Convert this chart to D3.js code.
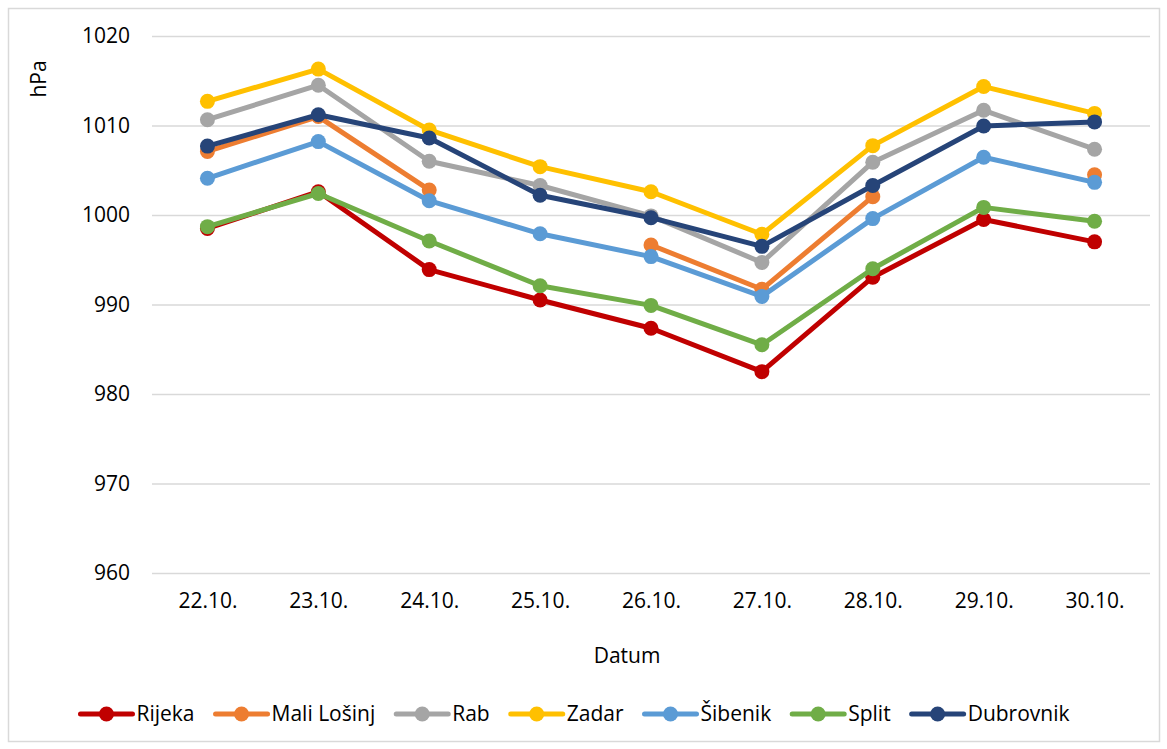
<!DOCTYPE html>
<html>
<head>
<meta charset="utf-8">
<script src="https://cdn.jsdelivr.net/npm/d3@7"></script>
<style>
  body { margin: 0; background: #fff; }
  svg { font-family: "Open Sans", "Noto Sans", sans-serif; }
</style>
</head>
<body>
<svg width="1167" height="749"></svg>
<script>
// data (hPa)
var dates = ["22.10.", "23.10.", "24.10.", "25.10.", "26.10.", "27.10.", "28.10.", "29.10.", "30.10."];
var yTicks = [960, 970, 980, 990, 1000, 1010, 1020];
var rijeka     = [998.5, 1002.6, 993.9, 990.5, 987.35, 982.5, 993.05, 999.5, 997.0];
var maliLosinj = [1007.1, 1011.0, 1002.8, null, 996.65, 991.7, 1002.05, null, 1004.5];
var rab        = [1010.65, 1014.5, 1006.0, 1003.3, 999.9, 994.7, 1005.9, 1011.7, 1007.35];
var zadar      = [1012.7, 1016.3, 1009.5, 1005.4, 1002.6, 997.85, 1007.75, 1014.35, 1011.35];
var sibenik    = [1004.1, 1008.2, 1001.6, 997.9, 995.35, 990.9, 999.6, 1006.45, 1003.65];
var split      = [998.7, 1002.4, 997.1, 992.1, 989.9, 985.5, 994.0, 1000.85, 999.3];
var dubrovnik  = [1007.7, 1011.2, 1008.6, 1002.2, 999.7, 996.5, 1003.3, 1009.95, 1010.4];

var names = ["Rijeka", "Mali Lošinj", "Rab", "Zadar", "Šibenik", "Split", "Dubrovnik"];
var colors = ["#C00000", "#ED7D31", "#A5A5A5", "#FFC000", "#5B9BD5", "#70AD47", "#264478"];
var series = [rijeka, maliLosinj, rab, zadar, sibenik, split, dubrovnik].map(function(vals, i) {
  return {name: names[i], color: colors[i], values: vals};
});

var fontSize = 21;
var svg = d3.select("svg");

// chart border
svg.append("rect")
  .attr("x", 8.5).attr("y", 8.5)
  .attr("width", 1151).attr("height", 733)
  .attr("fill", "#fff")
  .attr("stroke", "#D9D9D9")
  .attr("stroke-width", 1.5);

var plot = {left: 152, right: 1150, top: 36, bottom: 573};

var x = d3.scalePoint()
  .domain(dates)
  .range([plot.left, plot.right])
  .padding(0.5);

var y = d3.scaleLinear()
  .domain([960, 1020])
  .range([plot.bottom, plot.top]);

// y axis: gridlines + labels
var yAxis = svg.append("g")
  .attr("transform", "translate(" + plot.left + ",0)")
  .call(d3.axisLeft(y).tickValues(yTicks).tickSize(-(plot.right - plot.left)).tickPadding(22).tickFormat(d3.format("d")));
yAxis.select(".domain").remove();
yAxis.selectAll(".tick line").attr("stroke", "#D9D9D9").attr("stroke-width", 1.5);
yAxis.selectAll(".tick text")
  .attr("font-size", fontSize)
  .attr("font-family", "Open Sans, sans-serif")
  .attr("fill", "#000");

// x axis labels
var xAxis = svg.append("g")
  .attr("transform", "translate(0," + plot.bottom + ")")
  .call(d3.axisBottom(x).tickSize(0).tickPadding(20));
xAxis.select(".domain").remove();
xAxis.selectAll(".tick text")
  .attr("font-size", fontSize)
  .attr("font-family", "Open Sans, sans-serif")
  .attr("fill", "#000");

// axis titles
svg.append("text")
  .attr("transform", "translate(46,79) rotate(-90)")
  .attr("text-anchor", "middle")
  .attr("font-size", fontSize)
  .attr("fill", "#000")
  .text("hPa");

svg.append("text")
  .attr("x", 627)
  .attr("y", 663)
  .attr("text-anchor", "middle")
  .attr("font-size", fontSize)
  .attr("fill", "#000")
  .text("Datum");

// lines + markers, drawn in series order
var line = d3.line()
  .defined(function(d) { return d != null; })
  .x(function(d, i) { return x(dates[i]); })
  .y(function(d) { return y(d); });

var g = svg.append("g");
series.forEach(function(s) {
  var sg = g.append("g");
  sg.append("path")
    .attr("d", line(s.values))
    .attr("fill", "none")
    .attr("stroke", s.color)
    .attr("stroke-width", 5)
    .attr("stroke-linejoin", "round")
    .attr("stroke-linecap", "round");
  sg.selectAll("circle")
    .data(s.values.map(function(v, i) { return {v: v, d: dates[i]}; }).filter(function(p) { return p.v != null; }))
    .enter().append("circle")
    .attr("cx", function(p) { return x(p.d); })
    .attr("cy", function(p) { return y(p.v); })
    .attr("r", 7.5)
    .attr("fill", s.color);
});

// legend
var legend = svg.append("g").attr("font-size", fontSize);
var lx = 0;
series.forEach(function(s) {
  var it = legend.append("g");
  it.append("line")
    .attr("x1", 0).attr("x2", 52)
    .attr("stroke", s.color).attr("stroke-width", 5).attr("stroke-linecap", "round");
  it.append("circle").attr("cx", 26).attr("r", 7.5).attr("fill", s.color);
  var t = it.append("text")
    .attr("x", 56)
    .attr("dy", "0.35em")
    .attr("fill", "#000")
    .text(s.name);
  var w = t.node().getComputedTextLength();
  it.attr("transform", "translate(" + lx + ",0)");
  lx += 56 + w + 21;
});
var total = lx - 21;
legend.attr("transform", "translate(" + (575 - total / 2) + ",714)");
</script>
</body>
</html>
